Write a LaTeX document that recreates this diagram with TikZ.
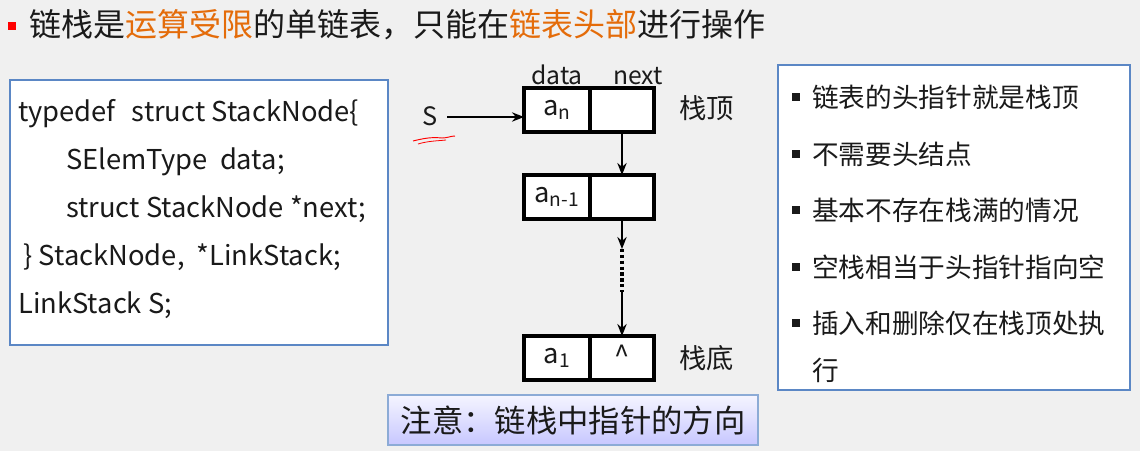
\documentclass[tikz,border=0pt]{standalone}
\usepackage{fontspec}
\setmainfont{Noto Sans CJK SC}
\usetikzlibrary{arrows.meta, positioning}

\definecolor{boxblue}{HTML}{5B87C5}
\definecolor{hilite}{HTML}{E46C0A}
\definecolor{bggray}{HTML}{F0F0F0}
\definecolor{inktext}{HTML}{1A1A1A}
\newcommand{\hl}[1]{\textcolor{hilite}{#1}}

\begin{document}
\begin{tikzpicture}[
  x=0.75pt, y=-0.75pt,
  >={Stealth[length=9pt, width=7pt]},
  every node/.style={text=inktext},
  panel/.style={
    draw=boxblue,
    line width=1.2pt,
    fill=white,
    inner sep=0pt
  },
  cell/.style={
    draw=black,
    line width=2.6pt,
    fill=white,
    outer sep=0pt,
    inner sep=0pt,
    minimum height=33pt,
    font=\fontsize{20.5}{22}\selectfont
  },
  datacell/.style={cell, minimum width=49.5pt},
  nextcell/.style={cell, minimum width=48pt},
  lbl/.style={font=\fontsize{18.5}{22}\selectfont, inner sep=1pt},
  sidelbl/.style={font=\fontsize{20.5}{24}\selectfont, inner sep=1pt},
  item/.style={font=\fontsize{20}{35}\selectfont, anchor=base west, align=left, inner sep=0pt},
  sqmark/.style={fill=inktext, minimum size=5.5pt, inner sep=0pt},
  link/.style={->, line width=2.2pt},
  gaplink/.style={line width=2.6pt, dash pattern=on 2.4pt off 2pt},
  notebox/.style={
    draw=boxblue!70,
    line width=0.8pt,
    top color=blue!4!white,
    bottom color=blue!22!white,
    minimum width=277.5pt,
    minimum height=37.5pt,
    font=\fontsize{23.5}{28}\selectfont
  }
]

% fond et cadre
\fill[bggray] (0,0) rectangle (1140,451);
\useasboundingbox (0,0) rectangle (1140,451);

% titre
\node[fill=red, minimum size=5.5pt, inner sep=0pt] (tbullet) at (12,26) {};
\node[font=\fontsize{24}{28}\selectfont, anchor=west, inner sep=0pt] (title) at (29,25)
  {链栈是\hl{运算受限}的单链表，只能在\hl{链表头部}进行操作};

% bloc de code
\node[panel, minimum width=283.5pt, minimum height=198.75pt] (codebox) at (199,212.5) {};
\node[font=\fontsize{20.5}{36}\selectfont, align=left, anchor=west, inner sep=0pt] (code) at (18,209)
  {typedef\hspace{12pt}struct StackNode\{\\
   \hspace*{36pt}SElemType\ \ data;\\
   \hspace*{36pt}struct StackNode *next;\\
   \hspace*{4pt}\} StackNode,\ \ *LinkStack;\\
   LinkStack S;};

% pile chainee
\node[datacell] (d1) at (557,110) {\raisebox{-2pt}{a\textsubscript{n}}\hspace{6pt}};
\node[nextcell, right=0pt of d1] (n1) {};
\node[datacell] (d2) at (557,197) {\raisebox{-2pt}{a\textsubscript{n-1}}};
\node[nextcell, right=0pt of d2] (n2) {};
\node[datacell] (d3) at (557,358) {\raisebox{-2pt}{a\textsubscript{1}}\hspace{6pt}};
\node[nextcell, right=0pt of d3] (n3) {\raisebox{4pt}{\textasciicircum}};

\node[lbl, above=1pt of d1] (datalbl) {data};
\node[lbl, above=1pt of n1, xshift=12pt] (nextlbl) {next};
\node[sidelbl, right=18pt of n1, yshift=1.5pt] (toplbl) {栈顶};
\node[sidelbl, right=18pt of n3] (botlbl) {栈底};

% pointeur S
\node[font=\fontsize{19}{22}\selectfont, inner sep=1pt] (S) at (430,116) {S};
\draw[red, line width=0.7pt] (413,141) .. controls (425,138) and (432,137) .. (442,138)
  .. controls (447,138) and (451,136) .. (455,136);
\draw[red, line width=0.6pt] (418,144) .. controls (428,141) and (436,141) .. (446,140);

% connexions
\coordinate (sstart) at (447,117);
\coordinate (gapa) at (622,249);
\coordinate (gapb) at (622,292);
\draw[link] (sstart) -- (sstart -| d1.west);
\draw[link] (n1.south) -- (n2.north);
\draw[link] (n2.south) -- (gapa);
\draw[gaplink] (gapa) -- (gapb);
\draw[link] (gapb) -- (n3.north);

% remarque
\node[notebox] (note) at (573,420) {注意：链栈中指针的方向};

% liste des proprietes
\node[panel, minimum width=264pt, minimum height=243.75pt] (propbox) at (954,227.5) {};
\node[sqmark] (m1) at (796,97) {};
\node[item] (p1) at (812,107) {链表的头指针就是栈顶};
\node[sqmark] (m2) at (796,154) {};
\node[item] (p2) at (812,164) {不需要头结点};
\node[sqmark] (m3) at (796,210) {};
\node[item] (p3) at (812,220) {基本不存在栈满的情况};
\node[sqmark] (m4) at (796,267) {};
\node[item] (p4) at (812,277) {空栈相当于头指针指向空};
\node[sqmark] (m5) at (796,323) {};
\node[item] (p5) at (812,380) {插入和删除仅在栈顶处执\\行};

\end{tikzpicture}
\end{document}
